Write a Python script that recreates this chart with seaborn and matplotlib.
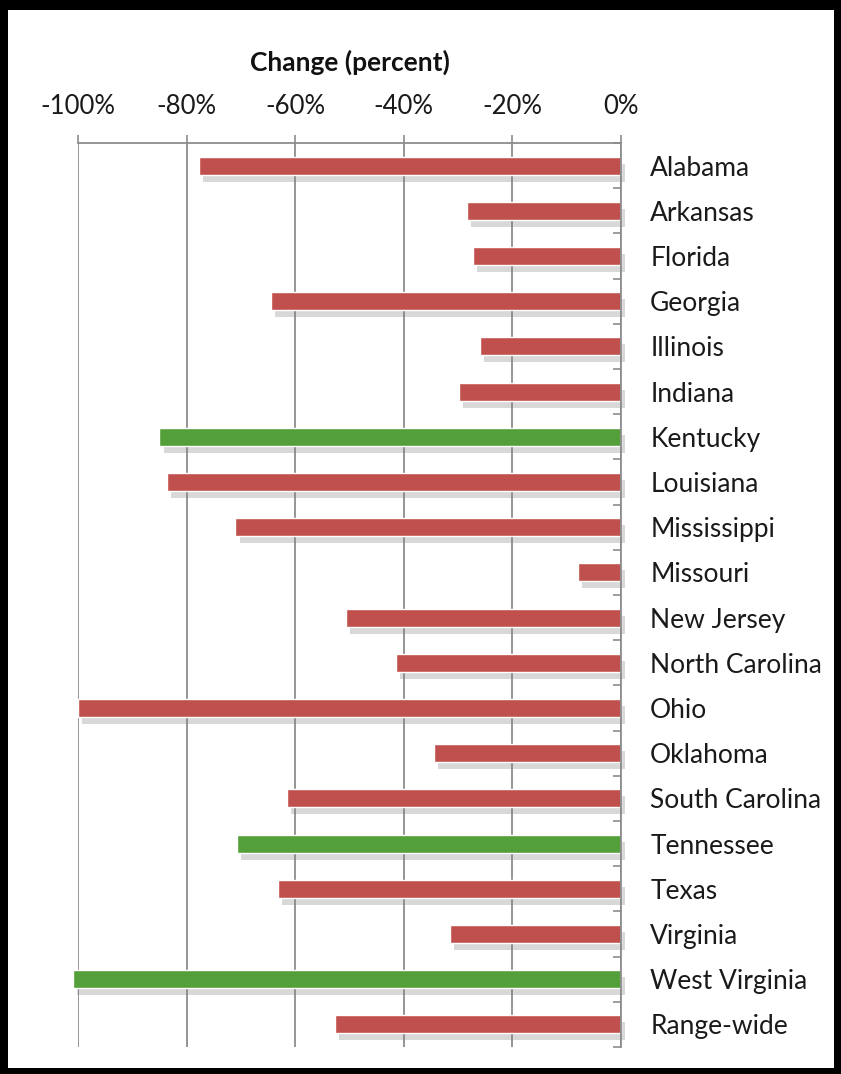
import matplotlib
matplotlib.use('Agg')
import matplotlib.pyplot as plt
import matplotlib.patheffects as pe
from matplotlib.patches import Rectangle
import seaborn as sns
import pandas as pd
import numpy as np

# data
states = ['Alabama', 'Arkansas', 'Florida', 'Georgia', 'Illinois', 'Indiana',
          'Kentucky', 'Louisiana', 'Mississippi', 'Missouri', 'New Jersey',
          'North Carolina', 'Ohio', 'Oklahoma', 'South Carolina', 'Tennessee',
          'Texas', 'Virginia', 'West Virginia', 'Range-wide']
change = [-77.8, -28.3, -27.3, -64.5, -26.0, -29.9, -85.0, -83.7, -71.0, -7.9,
          -50.7, -41.5, -100.0, -34.5, -61.6, -70.8, -63.2, -31.5, -101.0, -52.7]
highlighted = ['Kentucky', 'Tennessee', 'West Virginia']
xticks = [-100, -80, -60, -40, -20, 0]
xtick_labels = ['-100%', '-80%', '-60%', '-40%', '-20%', '0%']

bar_red = '#C0504D'
bar_green = '#53A03A'
grid_gray = '#8c8c8c'

sns.set_theme(style='white')
plt.rcParams['font.family'] = ['Lato', 'DejaVu Sans']

df = pd.DataFrame({'state': states, 'change': change})
colors = {s: (bar_green if s in highlighted else bar_red) for s in states}

W, H = 841, 1074
fig = plt.figure(figsize=(W / 100, H / 100), dpi=100)
fig.patch.set_facecolor('black')
fig.add_artist(Rectangle((8 / W, 1 - 1068 / H), (834 - 8) / W, (1068 - 10) / H,
                         transform=fig.transFigure, facecolor='white',
                         edgecolor='none', zorder=-5))

ax = fig.add_axes([78 / W, 1 - 1047 / H, (621 - 78) / W, (1047 - 143) / H])
ax.set_facecolor('white')

sns.barplot(data=df, x='change', y='state', hue='state', palette=colors,
            orient='h', width=0.4, saturation=1, legend=False, ax=ax)

for p in ax.patches:
    p.set_clip_on(False)
    p.set_path_effects([pe.SimplePatchShadow(offset=(3, -5), shadow_rgbFace='0.5', alpha=0.3),
                        pe.Normal()])

ax.set_xlim(-100, 0)
ax.set_ylim(len(states) - 0.5, -0.5)

# x axis on top
ax.xaxis.tick_top()
ax.xaxis.set_label_position('top')
ax.set_xticks(xticks)
ax.set_xticklabels(xtick_labels)
ax.tick_params(axis='x', which='major', direction='out', length=6, width=1.2,
               color=grid_gray, pad=11, labelsize=18.5, labelcolor='#1a1a1a')
ax.set_xlabel('Change (percent)', fontweight='bold', fontsize=19, labelpad=17,
              color='#111111')

# y axis on right
ax.yaxis.tick_right()
ax.yaxis.set_label_position('right')
ax.set_ylabel('')
ax.set_yticks(np.arange(len(states)))
ax.set_yticklabels(states)
ax.set_yticks(np.arange(-0.5, len(states), 1), minor=True)
ax.tick_params(axis='y', which='major', length=0, pad=21, labelsize=19,
               labelcolor='#1a1a1a')
ax.tick_params(axis='y', which='minor', direction='in', length=6, width=1.2,
               color=grid_gray, right=True, left=False)

ax.grid(axis='x', color=grid_gray, lw=1.3)
ax.grid(axis='y', visible=False)
ax.set_axisbelow(True)
for side in ['left', 'bottom']:
    ax.spines[side].set_visible(False)
for side in ['top', 'right']:
    ax.spines[side].set_color(grid_gray)
    ax.spines[side].set_linewidth(1.3)

fig.savefig('out.png', dpi=100, facecolor=fig.get_facecolor())
